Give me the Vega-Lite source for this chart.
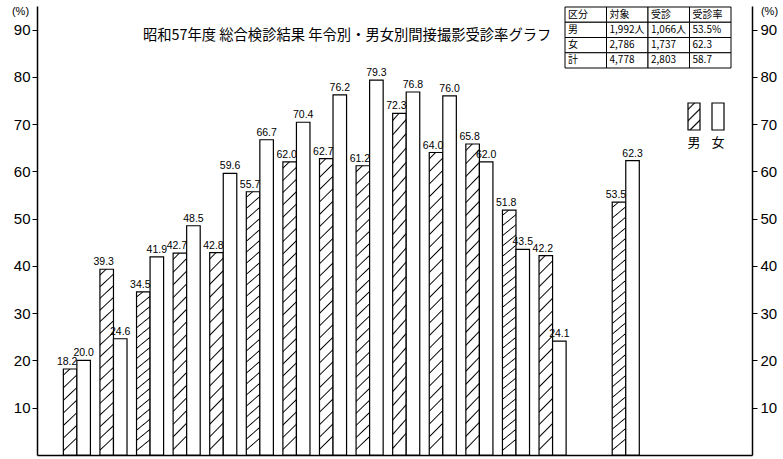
{
  "$schema": "https://vega.github.io/schema/vega-lite/v6.json",
  "width": 715,
  "height": 449,
  "autosize": {"type": "none"},
  "padding": {"left": 37, "top": 6, "right": 31, "bottom": 4},
  "background": "white",
  "config": {"view": {"stroke": null}, "axis": {"grid": false}},
  "title": {
    "text": "昭和57年度 総合検診結果 年令別・男女別間接撮影受診率グラフ",
    "anchor": "start", "dx": 106, "offset": -45, "baseline": "middle",
    "font": "Noto Sans CJK JP", "fontSize": 14.3, "fontWeight": "normal", "color": "black", "frame": "group"
  },
  "layer": [
    {
      "data": {"values": [
        {"group": "1", "sex": "男", "rate": 18.2}, {"group": "1", "sex": "女", "rate": 20.0},
        {"group": "2", "sex": "男", "rate": 39.3}, {"group": "2", "sex": "女", "rate": 24.6},
        {"group": "3", "sex": "男", "rate": 34.5}, {"group": "3", "sex": "女", "rate": 41.9},
        {"group": "4", "sex": "男", "rate": 42.7}, {"group": "4", "sex": "女", "rate": 48.5},
        {"group": "5", "sex": "男", "rate": 42.8}, {"group": "5", "sex": "女", "rate": 59.6},
        {"group": "6", "sex": "男", "rate": 55.7}, {"group": "6", "sex": "女", "rate": 66.7},
        {"group": "7", "sex": "男", "rate": 62.0}, {"group": "7", "sex": "女", "rate": 70.4},
        {"group": "8", "sex": "男", "rate": 62.7}, {"group": "8", "sex": "女", "rate": 76.2},
        {"group": "9", "sex": "男", "rate": 61.2}, {"group": "9", "sex": "女", "rate": 79.3},
        {"group": "10", "sex": "男", "rate": 72.3}, {"group": "10", "sex": "女", "rate": 76.8},
        {"group": "11", "sex": "男", "rate": 64.0}, {"group": "11", "sex": "女", "rate": 76.0},
        {"group": "12", "sex": "男", "rate": 65.8}, {"group": "12", "sex": "女", "rate": 62.0},
        {"group": "13", "sex": "男", "rate": 51.8}, {"group": "13", "sex": "女", "rate": 43.5},
        {"group": "14", "sex": "男", "rate": 42.2}, {"group": "14", "sex": "女", "rate": 24.1},
        {"group": "計", "sex": "男", "rate": 53.5}, {"group": "計", "sex": "女", "rate": 62.3}
      ]},
      "encoding": {
        "x": {"field": "group", "type": "nominal", "sort": null,
          "scale": {"domain": ["1","2","3","4","5","6","7","8","9","10","11","12","13","14","gap","計","e1","e2"], "paddingInner": 0.26, "paddingOuter": 0.9, "align": 0.4}},
        "xOffset": {"field": "sex", "type": "nominal", "scale": {"domain": ["男", "女"], "paddingInner": 0, "paddingOuter": 0}},
        "y": {"field": "rate", "type": "quantitative", "scale": {"domain": [0, 95], "nice": false, "zero": true}}
      },
      "layer": [
        {
          "mark": {"type": "bar", "stroke": "black", "strokeWidth": 1.2},
          "encoding": {
            "x": {"field": "group", "type": "nominal", "sort": null,
              "axis": {"title": null, "labels": false, "ticks": false, "domain": true, "domainColor": "black", "domainWidth": 1.5}},
            "y": {"field": "rate", "type": "quantitative",
              "axis": {"orient": "left", "values": [10,20,30,40,50,60,70,80,90], "title": "(%)", "titleAngle": 0, "titleX": -17, "titleY": 5,
                "titleAlign": "center", "titleBaseline": "middle", "titleFont": "Liberation Sans", "titleFontSize": 11, "titleFontWeight": "normal", "titleColor": "black",
                "labelFont": "Liberation Sans", "labelFontSize": 15, "labelColor": "black", "labelPadding": 2, "tickSize": 5, "tickColor": "black",
                "domainColor": "black", "domainWidth": 1.5, "grid": false}},
            "fill": {
              "condition": [
                {"test": "datum.sex === '男' && datum.rate < 30", "value": {"gradient": "linear", "x1": 0, "y1": 0, "x2": 0.15, "y2": 1, "stops": [
                  {"offset": 0.056, "color": "white"}, {"offset": 0.071, "color": "black"}, {"offset": 0.086, "color": "white"},
                  {"offset": 0.199, "color": "white"}, {"offset": 0.214, "color": "black"}, {"offset": 0.229, "color": "white"},
                  {"offset": 0.342, "color": "white"}, {"offset": 0.357, "color": "black"}, {"offset": 0.372, "color": "white"},
                  {"offset": 0.485, "color": "white"}, {"offset": 0.5, "color": "black"}, {"offset": 0.515, "color": "white"},
                  {"offset": 0.628, "color": "white"}, {"offset": 0.643, "color": "black"}, {"offset": 0.658, "color": "white"},
                  {"offset": 0.771, "color": "white"}, {"offset": 0.786, "color": "black"}, {"offset": 0.801, "color": "white"},
                  {"offset": 0.914, "color": "white"}, {"offset": 0.929, "color": "black"}, {"offset": 0.944, "color": "white"}
                ]}},
                {"test": "datum.sex === '男' && datum.rate < 47", "value": {"gradient": "linear", "x1": 0, "y1": 0, "x2": 0.068, "y2": 1, "stops": [
                  {"offset": 0.024, "color": "white"}, {"offset": 0.031, "color": "black"}, {"offset": 0.038, "color": "white"},
                  {"offset": 0.087, "color": "white"}, {"offset": 0.094, "color": "black"}, {"offset": 0.101, "color": "white"},
                  {"offset": 0.149, "color": "white"}, {"offset": 0.156, "color": "black"}, {"offset": 0.163, "color": "white"},
                  {"offset": 0.212, "color": "white"}, {"offset": 0.219, "color": "black"}, {"offset": 0.226, "color": "white"},
                  {"offset": 0.274, "color": "white"}, {"offset": 0.281, "color": "black"}, {"offset": 0.288, "color": "white"},
                  {"offset": 0.337, "color": "white"}, {"offset": 0.344, "color": "black"}, {"offset": 0.351, "color": "white"},
                  {"offset": 0.399, "color": "white"}, {"offset": 0.406, "color": "black"}, {"offset": 0.413, "color": "white"},
                  {"offset": 0.462, "color": "white"}, {"offset": 0.469, "color": "black"}, {"offset": 0.476, "color": "white"},
                  {"offset": 0.524, "color": "white"}, {"offset": 0.531, "color": "black"}, {"offset": 0.538, "color": "white"},
                  {"offset": 0.587, "color": "white"}, {"offset": 0.594, "color": "black"}, {"offset": 0.601, "color": "white"},
                  {"offset": 0.649, "color": "white"}, {"offset": 0.656, "color": "black"}, {"offset": 0.663, "color": "white"},
                  {"offset": 0.712, "color": "white"}, {"offset": 0.719, "color": "black"}, {"offset": 0.726, "color": "white"},
                  {"offset": 0.774, "color": "white"}, {"offset": 0.781, "color": "black"}, {"offset": 0.788, "color": "white"},
                  {"offset": 0.837, "color": "white"}, {"offset": 0.844, "color": "black"}, {"offset": 0.851, "color": "white"},
                  {"offset": 0.899, "color": "white"}, {"offset": 0.906, "color": "black"}, {"offset": 0.913, "color": "white"},
                  {"offset": 0.962, "color": "white"}, {"offset": 0.969, "color": "black"}, {"offset": 0.976, "color": "white"}
                ]}},
                {"test": "datum.sex === '男'", "value": {"gradient": "linear", "x1": 0, "y1": 0, "x2": 0.045, "y2": 1, "stops": [
                  {"offset": 0.0165, "color": "white"}, {"offset": 0.021, "color": "black"}, {"offset": 0.0255, "color": "white"},
                  {"offset": 0.0585, "color": "white"}, {"offset": 0.063, "color": "black"}, {"offset": 0.0675, "color": "white"},
                  {"offset": 0.0995, "color": "white"}, {"offset": 0.104, "color": "black"}, {"offset": 0.1085, "color": "white"},
                  {"offset": 0.1415, "color": "white"}, {"offset": 0.146, "color": "black"}, {"offset": 0.1505, "color": "white"},
                  {"offset": 0.1835, "color": "white"}, {"offset": 0.188, "color": "black"}, {"offset": 0.1925, "color": "white"},
                  {"offset": 0.2245, "color": "white"}, {"offset": 0.229, "color": "black"}, {"offset": 0.2335, "color": "white"},
                  {"offset": 0.2665, "color": "white"}, {"offset": 0.271, "color": "black"}, {"offset": 0.2755, "color": "white"},
                  {"offset": 0.3085, "color": "white"}, {"offset": 0.313, "color": "black"}, {"offset": 0.3175, "color": "white"},
                  {"offset": 0.3495, "color": "white"}, {"offset": 0.354, "color": "black"}, {"offset": 0.3585, "color": "white"},
                  {"offset": 0.3915, "color": "white"}, {"offset": 0.396, "color": "black"}, {"offset": 0.4005, "color": "white"},
                  {"offset": 0.4335, "color": "white"}, {"offset": 0.438, "color": "black"}, {"offset": 0.4425, "color": "white"},
                  {"offset": 0.4745, "color": "white"}, {"offset": 0.479, "color": "black"}, {"offset": 0.4835, "color": "white"},
                  {"offset": 0.5165, "color": "white"}, {"offset": 0.521, "color": "black"}, {"offset": 0.5255, "color": "white"},
                  {"offset": 0.5585, "color": "white"}, {"offset": 0.563, "color": "black"}, {"offset": 0.5675, "color": "white"},
                  {"offset": 0.5995, "color": "white"}, {"offset": 0.604, "color": "black"}, {"offset": 0.6085, "color": "white"},
                  {"offset": 0.6415, "color": "white"}, {"offset": 0.646, "color": "black"}, {"offset": 0.6505, "color": "white"},
                  {"offset": 0.6835, "color": "white"}, {"offset": 0.688, "color": "black"}, {"offset": 0.6925, "color": "white"},
                  {"offset": 0.7245, "color": "white"}, {"offset": 0.729, "color": "black"}, {"offset": 0.7335, "color": "white"},
                  {"offset": 0.7665, "color": "white"}, {"offset": 0.771, "color": "black"}, {"offset": 0.7755, "color": "white"},
                  {"offset": 0.8085, "color": "white"}, {"offset": 0.813, "color": "black"}, {"offset": 0.8175, "color": "white"},
                  {"offset": 0.8495, "color": "white"}, {"offset": 0.854, "color": "black"}, {"offset": 0.8585, "color": "white"},
                  {"offset": 0.8915, "color": "white"}, {"offset": 0.896, "color": "black"}, {"offset": 0.9005, "color": "white"},
                  {"offset": 0.9335, "color": "white"}, {"offset": 0.938, "color": "black"}, {"offset": 0.9425, "color": "white"},
                  {"offset": 0.9745, "color": "white"}, {"offset": 0.979, "color": "black"}, {"offset": 0.9835, "color": "white"}
                ]}}
              ],
              "value": "white"
            }
          }
        },
        {
          "transform": [{"filter": "datum.sex === '男'"}],
          "mark": {"type": "text", "baseline": "bottom", "dy": -2, "dx": -3, "font": "Liberation Sans", "fontSize": 10.5, "color": "black"},
          "encoding": {
            "x": {"field": "group", "type": "nominal", "sort": null, "axis": null},
            "y": {"field": "rate", "type": "quantitative",
              "axis": {"orient": "right", "values": [10,20,30,40,50,60,70,80,90], "title": "(%)", "titleAngle": 0, "titleX": 17, "titleY": 5,
                "titleAlign": "center", "titleBaseline": "middle", "titleFont": "Liberation Sans", "titleFontSize": 11, "titleFontWeight": "normal", "titleColor": "black",
                "labelFont": "Liberation Sans", "labelFontSize": 15, "labelColor": "black", "labelPadding": 3, "tickSize": 5, "tickColor": "black",
                "domainColor": "black", "domainWidth": 1.5, "grid": false}},
            "text": {"field": "rate", "type": "quantitative", "format": ".1f"}
          }
        },
        {
          "transform": [{"filter": "datum.sex === '女'"}],
          "mark": {"type": "text", "baseline": "bottom", "dy": -2, "font": "Liberation Sans", "fontSize": 10.5, "color": "black"},
          "encoding": {
            "x": {"field": "group", "type": "nominal", "sort": null, "axis": null},
            "y": {"field": "rate", "type": "quantitative", "axis": null},
            "text": {"field": "rate", "type": "quantitative", "format": ".1f"}
          }
        }
      ],
      "resolve": {"axis": {"x": "independent", "y": "independent"}}
    },
    {
      "data": {"values": [
        {"r": "hdr", "c": "c1", "t": "区分"}, {"r": "hdr", "c": "c2", "t": "対象"}, {"r": "hdr", "c": "c3", "t": "受診"}, {"r": "hdr", "c": "c4", "t": "受診率"},
        {"r": "男", "c": "c1", "t": "男"}, {"r": "男", "c": "c2", "t": "1,992人"}, {"r": "男", "c": "c3", "t": "1,066人"}, {"r": "男", "c": "c4", "t": "53.5%"},
        {"r": "女", "c": "c1", "t": "女"}, {"r": "女", "c": "c2", "t": "2,786"}, {"r": "女", "c": "c3", "t": "1,737"}, {"r": "女", "c": "c4", "t": "62.3"},
        {"r": "計", "c": "c1", "t": "計"}, {"r": "計", "c": "c2", "t": "4,778"}, {"r": "計", "c": "c3", "t": "2,803"}, {"r": "計", "c": "c4", "t": "58.7"}
      ]},
      "encoding": {
        "x": {"field": "c", "type": "nominal", "axis": null, "scale": {"type": "band", "domain": ["c1","c2","c3","c4"], "range": [528, 694], "paddingInner": 0, "paddingOuter": 0}},
        "y": {"field": "r", "type": "nominal", "axis": null, "scale": {"type": "band", "domain": ["hdr","男","女","計"], "range": [1, 62], "paddingInner": 0, "paddingOuter": 0}}
      },
      "layer": [
        {"mark": {"type": "rect", "fill": "white", "stroke": "black", "strokeWidth": 1}},
        {"mark": {"type": "text", "align": "left", "dx": 3, "font": "Noto Sans CJK JP", "fontSize": 10, "color": "black"},
         "encoding": {"x": {"field": "c", "type": "nominal", "bandPosition": 0}, "text": {"field": "t"}}}
      ]
    },
    {
      "data": {"values": [{"sex": "男", "k": "lg"}, {"sex": "女", "k": "lg"}]},
      "encoding": {
        "x": {"field": "sex", "type": "nominal", "sort": null, "axis": null, "scale": {"type": "band", "domain": ["男", "女"], "range": [651, 687], "paddingInner": 0.5, "paddingOuter": 0}},
        "y": {"field": "k", "type": "nominal", "axis": null, "scale": {"type": "band", "domain": ["lg"], "range": [97, 124], "paddingInner": 0, "paddingOuter": 0}}
      },
      "layer": [
        {"mark": {"type": "rect", "stroke": "black", "strokeWidth": 1.2},
         "encoding": {"fill": {
           "condition": {"test": "datum.sex === '男'", "value": {"gradient": "linear", "x1": 0, "y1": 0, "x2": 0.44, "y2": 1, "stops": [
             {"offset": 0.15, "color": "white"}, {"offset": 0.2, "color": "black"}, {"offset": 0.25, "color": "white"},
             {"offset": 0.5, "color": "white"}, {"offset": 0.55, "color": "black"}, {"offset": 0.6, "color": "white"},
             {"offset": 0.85, "color": "white"}, {"offset": 0.9, "color": "black"}, {"offset": 0.95, "color": "white"}
           ]}},
           "value": "white"}}},
        {"mark": {"type": "text", "baseline": "middle", "dy": 13, "font": "Noto Sans CJK JP", "fontSize": 13, "color": "black"},
         "encoding": {"y": {"field": "k", "type": "nominal", "bandPosition": 1}, "text": {"field": "sex"}}}
      ]
    }
  ],
  "resolve": {"scale": {"x": "independent", "y": "independent"}}
}
